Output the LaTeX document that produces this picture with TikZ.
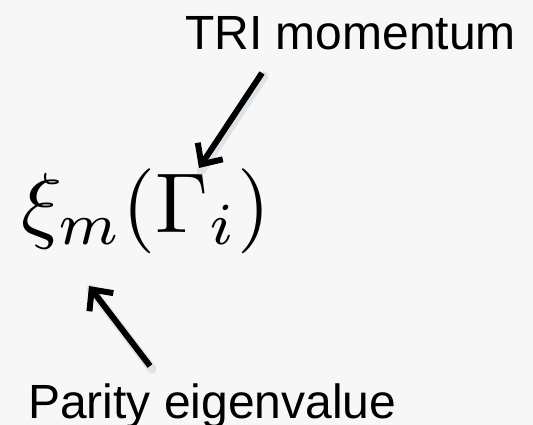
\documentclass[tikz,border=0pt]{standalone}
\usepackage{fontspec}
\setsansfont{Liberation Sans}
\usepackage{amsmath, amssymb}
\usepackage{graphicx}
\usepackage{tikz}
\usetikzlibrary{arrows.meta, positioning, calc}

\definecolor{slidebg}{RGB}{247,247,247}
\definecolor{shadowblue}{RGB}{150,170,190}

\begin{document}
\begin{tikzpicture}[x=1pt, y=1pt,
    label/.style={font=\fontsize{48}{56}\selectfont\sffamily, inner sep=0pt},
    pointer/.style={line width=6pt, -{Straight Barb[length=16pt, width=30pt, line width=6pt]}},
    glow/.style={line width=9pt, draw=shadowblue, opacity=0.25, line cap=round}]
        % background of the slide
        \fill[slidebg] (0,0) rectangle (533,-425);
        \useasboundingbox (0,0) rectangle (533,-425);

        \node[label, anchor=base west] (tri) at (185,-50) {TRI momentum};
        \node[inner sep=0pt, anchor=base west]
          (xi) at (21,-232) {\scalebox{8.5}{$\xi_m(\Gamma_i)$}};
        \node[label, anchor=base west] (parity) at (28,-418) {Parity eigenvalue};

        \coordinate (triend) at (262,-73);
        \coordinate (gamma) at (199,-168);
        \coordinate (parend) at (150,-366);
        \coordinate (xisub) at (89,-286);

        % soft shadows, then the arrows
        \draw[glow] ($(triend)+(2,-3)$) -- ($(gamma)+(2,-3)$);
        \draw[glow] ($(parend)+(2,-3)$) -- ($(xisub)+(2,-3)$);
        \draw[pointer] (triend) -- (gamma);
        \draw[pointer] (parend) -- (xisub);
      \end{tikzpicture}
\end{document}
